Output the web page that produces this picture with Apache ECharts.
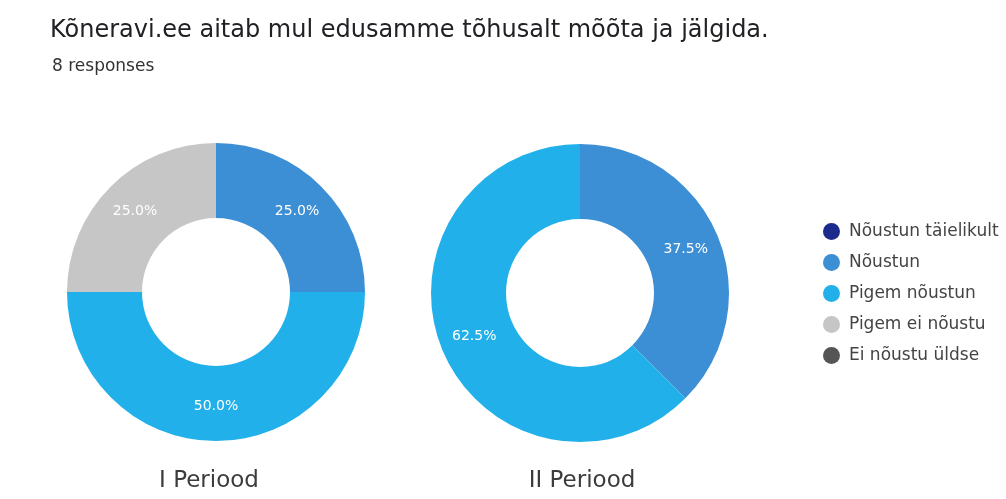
<!DOCTYPE html>
<html>
<head>
<meta charset="utf-8">
<script src="https://cdn.jsdelivr.net/npm/echarts@6/dist/echarts.min.js"></script>
<style>
  html, body { margin: 0; padding: 0; background: #fff; }
  #main { width: 1006px; height: 499px; }
</style>
</head>
<body>
<div id="main"></div>
<script>
// vastusevariandid (legend)
const answers = ["Nõustun täielikult", "Nõustun", "Pigem nõustun", "Pigem ei nõustu", "Ei nõustu üldse"]
const colors = ["#1c2a8c", "#3d8fd5", "#22b0ea", "#c6c6c6", "#555555"]

// vastuste arv perioodide kaupa (8 vastust)
const period1 = [0, 2, 4, 2, 0]
const period2 = [0, 3, 5, 0, 0]
const periodNames = ["I Periood", "II Periood"]

const chartTitle = "Kõneravi.ee aitab mul edusamme tõhusalt mõõta ja jälgida."
const subTitle = "8 responses"

const font = "DejaVu Sans"

const toData = vals => vals.map((v, i) => ({
    name: answers[i],
    value: v,
    itemStyle: { color: colors[i] }
}))

const pieSeries = (vals, center) => ({
    type: 'pie',
    radius: [74, 149],
    center: center,
    startAngle: 90,
    clockwise: true,
    silent: true,
    avoidLabelOverlap: false,
    label: {
        show: true,
        position: 'inside',
        color: '#fff',
        fontFamily: font,
        fontSize: 14,
        formatter: p => p.value === 0 ? '' : p.percent.toFixed(1) + '%'
    },
    labelLine: { show: false },
    itemStyle: { borderWidth: 0 },
    data: toData(vals)
})

const option = {
    backgroundColor: '#fff',
    animation: false,
    title: [
        {
            text: chartTitle,
            left: 45, top: 14,
            textStyle: { fontFamily: font, fontSize: 24, fontWeight: 'normal', color: '#202124' }
        },
        {
            text: subTitle,
            left: 47, top: 53,
            textStyle: { fontFamily: font, fontSize: 17, fontWeight: 'normal', color: '#333' }
        },
        {
            text: periodNames[0],
            left: 204, top: 465, textAlign: 'center',
            textStyle: { fontFamily: font, fontSize: 23, fontWeight: 'normal', color: '#3c3c3c' }
        },
        {
            text: periodNames[1],
            left: 577, top: 465, textAlign: 'center',
            textStyle: { fontFamily: font, fontSize: 23, fontWeight: 'normal', color: '#3c3c3c' }
        }
    ],
    legend: {
        orient: 'vertical',
        left: 818,
        top: 218,
        icon: 'circle',
        itemWidth: 17,
        itemHeight: 17,
        itemGap: 14,
        selectedMode: false,
        data: answers,
        textStyle: { fontFamily: font, fontSize: 17, color: '#444', lineHeight: 17, padding: [0, 0, 0, 4] }
    },
    series: [
        pieSeries(period1, [216, 292]),
        pieSeries(period2, [580, 293])
    ]
}

const myChart = echarts.init(document.getElementById('main'))
myChart.setOption(option)
</script>
</body>
</html>
